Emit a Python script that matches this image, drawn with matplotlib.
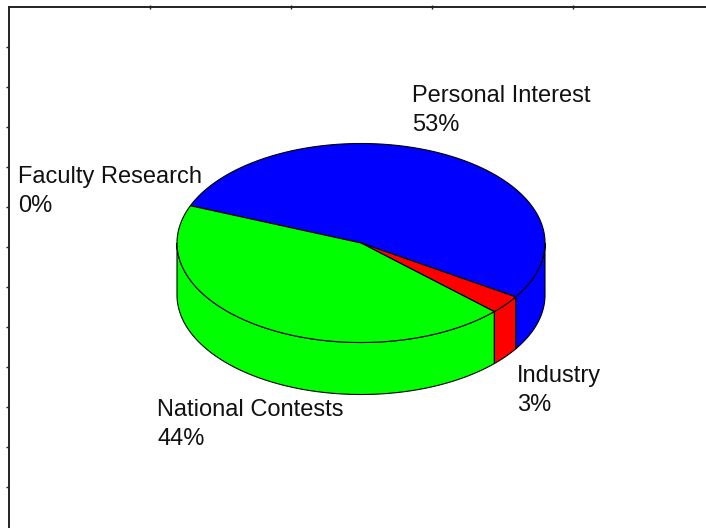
import numpy as np
import matplotlib
matplotlib.use("Agg")
import matplotlib.pyplot as plt
from matplotlib.patches import Polygon

# source of project ideas, share in percent
sources = ["Faculty Research", "Personal Interest", "Industry", "National Contests"]
shares = [0, 53, 3, 44]
colors = ["#ffff00", "#0000ff", "#ff0000", "#00ff00"]

# label baselines (pixels from top-left), name line then percent line
label_pos = [(18, 183), (412, 102), (517, 382), (157, 416)]
line_gap = 29

W, H = 706, 529
fig = plt.figure(figsize=(W / 100, H / 100), dpi=100)

# frame with short ticks on the left and top edges
frame = fig.add_axes([9 / W, 2 / H, 705 / W, 520 / H])
frame.set_xlim(0, 5)
frame.set_ylim(13, 0)
frame.set_xticks(range(1, 5))
frame.set_yticks(range(1, 13))
frame.tick_params(which="both", labelleft=False, labelbottom=False,
                  left=True, bottom=False, top=True, right=False,
                  length=2, width=1, direction="out", color="#222222")
frame.tick_params(axis="x", direction="inout", length=3)
for side in ("right", "bottom"):
    frame.spines[side].set_visible(False)
for side in ("left", "top"):
    frame.spines[side].set_linewidth(1.4)
    frame.spines[side].set_color("#222222")
frame.patch.set_alpha(0)

# drawing surface in pixel units for the 3d pie
ax = fig.add_axes([0, 0, 1, 1])
ax.set_xlim(0, W)
ax.set_ylim(H, 0)
ax.axis("off")
ax.patch.set_alpha(0)

cx, cy = 361, 243
a, b = 184, 99.5
depth = 52
start = 158.0


def rim(t_deg, drop=0.0):
    t = np.radians(t_deg)
    return np.column_stack([cx + a * np.cos(t), cy - b * np.sin(t) + drop])


total = float(sum(shares))
theta = start
for share, color in zip(shares, colors):
    span = 360.0 * share / total
    t1, t2 = theta, theta - span
    theta = t2
    if share == 0:
        continue

    # front wall: the part of the slice facing the viewer (180..360 deg)
    for k in (-1, 0, 1):
        lo = max(t2, -180 + 360 * k)
        hi = min(t1, 0 + 360 * k)
        if hi - lo <= 0:
            continue
        ts = np.linspace(lo, hi, 120)
        pts = np.vstack([rim(ts), rim(ts[::-1], depth)])
        ax.add_patch(Polygon(pts, closed=True, facecolor=color,
                             edgecolor="black", lw=0.8, zorder=1))

    # top face
    ts = np.linspace(t1, t2, 240)
    pts = np.vstack([[cx, cy], rim(ts)])
    ax.add_patch(Polygon(pts, closed=True, facecolor=color,
                         edgecolor="black", lw=0.8, zorder=2))

for name, share, (lx, ly) in zip(sources, shares, label_pos):
    ax.text(lx, ly, name, fontsize=17, family="Liberation Sans",
            ha="left", va="baseline", color="#111111")
    ax.text(lx, ly + line_gap, f"{share}%", fontsize=17, family="Liberation Sans",
            ha="left", va="baseline", color="#111111")

fig.savefig("out.png", dpi=100)
